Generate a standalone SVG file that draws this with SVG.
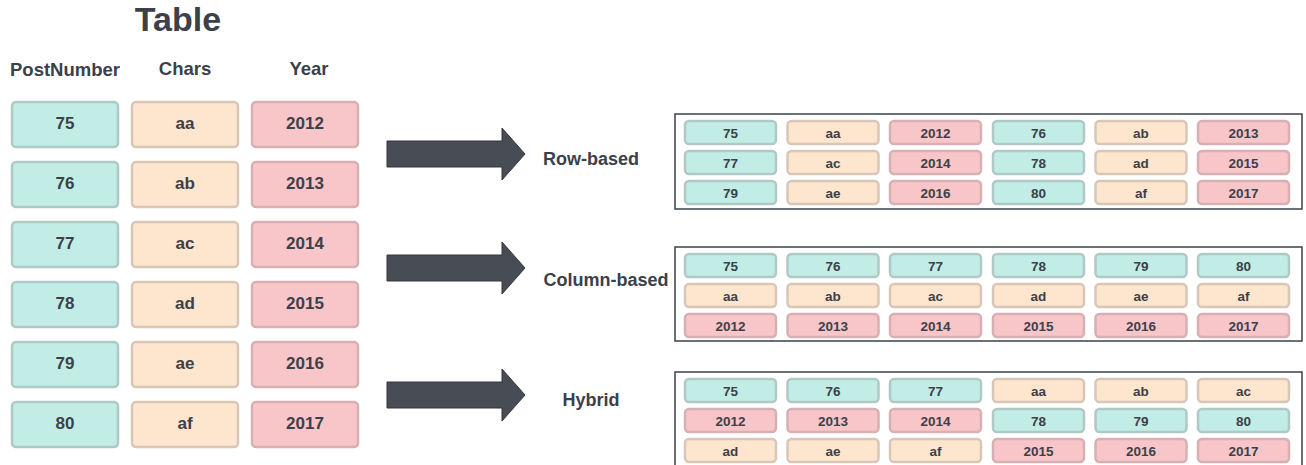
<svg xmlns="http://www.w3.org/2000/svg" width="1306" height="465" viewBox="0 0 1306 465">
<style>
text{font-family:"Liberation Sans",Arial,sans-serif;font-weight:bold;fill:#3b4049;text-anchor:middle}
.t{fill:#c1ede6;stroke:#b0c9c5;stroke-width:2.5}
.c{fill:#fee5cd;stroke:#d8c6b8;stroke-width:2.5}
.y{fill:#f8c6c8;stroke:#d6b0b2;stroke-width:2.5}
.big text{font-size:17px}
.sm text{font-size:13.5px}
.box{fill:#fff;stroke:#3b4049;stroke-width:1.5}
.arr{fill:#474c55;stroke:#33373d;stroke-width:1}
</style>
<defs>
<rect id="B" width="106" height="45" rx="4"/>
<rect id="S" width="91" height="23" rx="4"/>
</defs>
<text x="178" y="31" style="font-size:34px">Table</text>
<g id="headers" style="font-size:18.5px">
<text x="65" y="76">PostNumber</text>
<text x="185" y="75">Chars</text>
<text x="309" y="75">Year</text>
</g>
<g id="table" class="big">
<g id="r1"><use href="#B" x="12" y="102" class="t"/><text x="65" y="129">75</text><use href="#B" x="132" y="102" class="c"/><text x="185" y="129">aa</text><use href="#B" x="252" y="102" class="y"/><text x="305" y="129">2012</text></g>
<g id="r2"><use href="#B" x="12" y="162" class="t"/><text x="65" y="189">76</text><use href="#B" x="132" y="162" class="c"/><text x="185" y="189">ab</text><use href="#B" x="252" y="162" class="y"/><text x="305" y="189">2013</text></g>
<g id="r3"><use href="#B" x="12" y="222" class="t"/><text x="65" y="249">77</text><use href="#B" x="132" y="222" class="c"/><text x="185" y="249">ac</text><use href="#B" x="252" y="222" class="y"/><text x="305" y="249">2014</text></g>
<g id="r4"><use href="#B" x="12" y="282" class="t"/><text x="65" y="309">78</text><use href="#B" x="132" y="282" class="c"/><text x="185" y="309">ad</text><use href="#B" x="252" y="282" class="y"/><text x="305" y="309">2015</text></g>
<g id="r5"><use href="#B" x="12" y="342" class="t"/><text x="65" y="369">79</text><use href="#B" x="132" y="342" class="c"/><text x="185" y="369">ae</text><use href="#B" x="252" y="342" class="y"/><text x="305" y="369">2016</text></g>
<g id="r6"><use href="#B" x="12" y="402" class="t"/><text x="65" y="429">80</text><use href="#B" x="132" y="402" class="c"/><text x="185" y="429">af</text><use href="#B" x="252" y="402" class="y"/><text x="305" y="429">2017</text></g>
</g>
<g id="connectors">
<polygon class="arr" points="387,141 502,141 502,128 525,154 502,180 502,167 387,167"/>
<polygon class="arr" points="387,255 502,255 502,242 525,268 502,294 502,281 387,281"/>
<polygon class="arr" points="387,382 502,382 502,369 525,395 502,421 502,408 387,408"/>
</g>
<g id="labels" style="font-size:18px">
<text x="591" y="165">Row-based</text>
<text x="606" y="286">Column-based</text>
<text x="591" y="406">Hybrid</text>
</g>
<g id="rowbased" class="sm">
<rect class="box" x="675" y="114" width="627" height="95"/>
<use href="#S" x="685" y="121" class="t"/><text x="730.5" y="138">75</text>
<use href="#S" x="787.5" y="121" class="c"/><text x="833" y="138">aa</text>
<use href="#S" x="890" y="121" class="y"/><text x="935.5" y="138">2012</text>
<use href="#S" x="993" y="121" class="t"/><text x="1038.5" y="138">76</text>
<use href="#S" x="1095.5" y="121" class="c"/><text x="1141" y="138">ab</text>
<use href="#S" x="1198" y="121" class="y"/><text x="1243.5" y="138">2013</text>
<use href="#S" x="685" y="151" class="t"/><text x="730.5" y="168">77</text>
<use href="#S" x="787.5" y="151" class="c"/><text x="833" y="168">ac</text>
<use href="#S" x="890" y="151" class="y"/><text x="935.5" y="168">2014</text>
<use href="#S" x="993" y="151" class="t"/><text x="1038.5" y="168">78</text>
<use href="#S" x="1095.5" y="151" class="c"/><text x="1141" y="168">ad</text>
<use href="#S" x="1198" y="151" class="y"/><text x="1243.5" y="168">2015</text>
<use href="#S" x="685" y="181" class="t"/><text x="730.5" y="198">79</text>
<use href="#S" x="787.5" y="181" class="c"/><text x="833" y="198">ae</text>
<use href="#S" x="890" y="181" class="y"/><text x="935.5" y="198">2016</text>
<use href="#S" x="993" y="181" class="t"/><text x="1038.5" y="198">80</text>
<use href="#S" x="1095.5" y="181" class="c"/><text x="1141" y="198">af</text>
<use href="#S" x="1198" y="181" class="y"/><text x="1243.5" y="198">2017</text>
</g>
<g id="columnbased" class="sm">
<rect class="box" x="675" y="247" width="627" height="94"/>
<use href="#S" x="685" y="254" class="t"/><text x="730.5" y="271">75</text>
<use href="#S" x="787.5" y="254" class="t"/><text x="833" y="271">76</text>
<use href="#S" x="890" y="254" class="t"/><text x="935.5" y="271">77</text>
<use href="#S" x="993" y="254" class="t"/><text x="1038.5" y="271">78</text>
<use href="#S" x="1095.5" y="254" class="t"/><text x="1141" y="271">79</text>
<use href="#S" x="1198" y="254" class="t"/><text x="1243.5" y="271">80</text>
<use href="#S" x="685" y="284" class="c"/><text x="730.5" y="301">aa</text>
<use href="#S" x="787.5" y="284" class="c"/><text x="833" y="301">ab</text>
<use href="#S" x="890" y="284" class="c"/><text x="935.5" y="301">ac</text>
<use href="#S" x="993" y="284" class="c"/><text x="1038.5" y="301">ad</text>
<use href="#S" x="1095.5" y="284" class="c"/><text x="1141" y="301">ae</text>
<use href="#S" x="1198" y="284" class="c"/><text x="1243.5" y="301">af</text>
<use href="#S" x="685" y="314" class="y"/><text x="730.5" y="331">2012</text>
<use href="#S" x="787.5" y="314" class="y"/><text x="833" y="331">2013</text>
<use href="#S" x="890" y="314" class="y"/><text x="935.5" y="331">2014</text>
<use href="#S" x="993" y="314" class="y"/><text x="1038.5" y="331">2015</text>
<use href="#S" x="1095.5" y="314" class="y"/><text x="1141" y="331">2016</text>
<use href="#S" x="1198" y="314" class="y"/><text x="1243.5" y="331">2017</text>
</g>
<g id="hybrid" class="sm">
<rect class="box" x="675" y="372" width="627" height="100"/>
<use href="#S" x="685" y="379" class="t"/><text x="730.5" y="396">75</text>
<use href="#S" x="787.5" y="379" class="t"/><text x="833" y="396">76</text>
<use href="#S" x="890" y="379" class="t"/><text x="935.5" y="396">77</text>
<use href="#S" x="993" y="379" class="c"/><text x="1038.5" y="396">aa</text>
<use href="#S" x="1095.5" y="379" class="c"/><text x="1141" y="396">ab</text>
<use href="#S" x="1198" y="379" class="c"/><text x="1243.5" y="396">ac</text>
<use href="#S" x="685" y="409" class="y"/><text x="730.5" y="426">2012</text>
<use href="#S" x="787.5" y="409" class="y"/><text x="833" y="426">2013</text>
<use href="#S" x="890" y="409" class="y"/><text x="935.5" y="426">2014</text>
<use href="#S" x="993" y="409" class="t"/><text x="1038.5" y="426">78</text>
<use href="#S" x="1095.5" y="409" class="t"/><text x="1141" y="426">79</text>
<use href="#S" x="1198" y="409" class="t"/><text x="1243.5" y="426">80</text>
<use href="#S" x="685" y="439" class="c"/><text x="730.5" y="456">ad</text>
<use href="#S" x="787.5" y="439" class="c"/><text x="833" y="456">ae</text>
<use href="#S" x="890" y="439" class="c"/><text x="935.5" y="456">af</text>
<use href="#S" x="993" y="439" class="y"/><text x="1038.5" y="456">2015</text>
<use href="#S" x="1095.5" y="439" class="y"/><text x="1141" y="456">2016</text>
<use href="#S" x="1198" y="439" class="y"/><text x="1243.5" y="456">2017</text>
</g>
</svg>
